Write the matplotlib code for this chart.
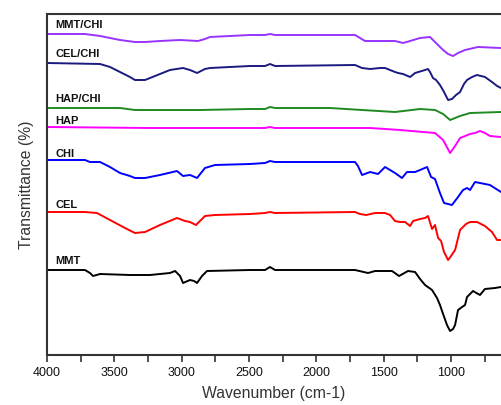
import matplotlib
matplotlib.use("Agg")
import matplotlib.pyplot as plt

plt.rcParams['font.family'] = ['Liberation Sans', 'DejaVu Sans']

# ---- data (wavenumber cm-1, offset transmittance in arbitrary units) ----
mmt_chi_wn = [4000, 3718, 3606, 3532, 3458, 3347, 3272, 3161, 3012, 2879, 2827, 2790, 2493, 2381, 2344, 2307,
              1713, 1676, 1639, 1564, 1490, 1416, 1356, 1304, 1230, 1156, 1119, 1059, 1022, 985, 948, 896, 800, 629]
mmt_chi_t = [321, 321, 319, 317, 315, 313, 313, 314, 315, 314, 316, 318, 320, 320, 321, 320,
             320, 317, 314, 314, 314, 314, 312, 314, 317, 318, 313, 305, 301, 299, 302, 305, 308, 307]

cel_chi_wn = [4000, 3606, 3532, 3458, 3384, 3347, 3272, 3235, 3161, 3087, 2990, 2938, 2886, 2827, 2790, 2493, 2381, 2344, 2307,
              1713, 1661, 1601, 1527, 1490, 1416, 1393, 1356, 1304, 1267, 1193, 1171, 1156, 1134, 1111,
              1082, 1052, 1022, 993, 963, 933, 904, 881, 844, 807, 748, 696, 658, 629]
cel_chi_t = [292, 291, 288, 283, 278, 275, 275, 277, 281, 285, 287, 285, 282, 286, 287, 289, 289, 291, 289,
             290, 287, 286, 287, 287, 283, 282, 281, 278, 282, 285, 286, 283, 277, 275,
             270, 263, 255, 256, 260, 263, 271, 275, 278, 280, 278, 273, 269, 267]

hap_chi_wn = [4000, 3458, 3347, 2864, 2493, 2381, 2344, 2307, 1898, 1661, 1416, 1230, 1119, 1059,
              1007, 933, 859, 629]
hap_chi_t = [247, 247, 245, 245, 246, 246, 248, 247, 247, 245, 243, 246, 245, 241,
             235, 239, 242, 243]

hap_wn = [4000, 3235, 2493, 2381, 2344, 2307, 1601, 1379, 1119, 1059, 1007, 970, 933, 859, 822,
          785, 748, 711, 629]
hap_t = [228, 227, 227, 227, 228, 227, 227, 225, 222, 215, 202, 209, 217, 221, 222,
         224, 222, 219, 218]

chi_wn = [4000, 3718, 3681, 3606, 3532, 3458, 3384, 3347, 3272, 3161, 3035, 2990, 2938, 2886, 2827, 2753,
          2493, 2381, 2344, 2307, 1713, 1691, 1661, 1601, 1542, 1490, 1416, 1364, 1327, 1267, 1230,
          1178, 1148, 1119, 1082, 1052, 993, 948, 911, 881, 859, 822, 711, 629]
chi_t = [195, 195, 193, 193, 188, 182, 179, 177, 177, 180, 184, 179, 180, 177, 187, 190,
         191, 192, 194, 193, 193, 189, 180, 183, 181, 188, 182, 177, 183, 183, 185,
         188, 178, 176, 162, 152, 150, 158, 165, 167, 165, 173, 170, 163]

cel_wn = [4000, 3718, 3629, 3532, 3421, 3347, 3272, 3161, 3035, 2975, 2938, 2894, 2827, 2753, 2493,
          2381, 2344, 2307, 1713, 1676, 1631, 1564, 1490, 1453, 1416, 1379, 1341, 1304, 1282, 1230,
          1193, 1171, 1141, 1119, 1096, 1074, 1052, 1022, 1000, 970, 933, 889, 859, 807, 748,
          696, 658, 629]
cel_t = [143, 143, 142, 135, 127, 122, 123, 130, 137, 134, 133, 130, 139, 140, 141,
         142, 143, 142, 143, 141, 140, 142, 142, 140, 134, 133, 133, 129, 134, 136,
         137, 139, 126, 130, 117, 114, 103, 95, 99, 105, 125, 131, 133, 133, 129,
         123, 115, 115]

mmt_wn = [4000, 3718, 3681, 3658, 3606, 3384, 3235, 3087, 3049, 3012, 2990, 2938, 2908, 2886, 2849,
          2812, 2493, 2381, 2344, 2307, 1713, 1616, 1564, 1438, 1386, 1319, 1267, 1230, 1193, 1141,
          1104, 1082, 1059, 1030, 1007, 985, 970, 948, 918, 896, 881, 837, 785, 748, 674, 629]
mmt_t = [85, 85, 82, 79, 81, 80, 80, 82, 84, 79, 72, 75, 74, 72, 79,
         84, 85, 85, 88, 85, 85, 82, 84, 84, 79, 84, 83, 76, 70, 65,
         57, 50, 41, 30, 24, 26, 30, 45, 48, 50, 58, 64, 60, 66, 67, 68]

names = ["MMT/CHI", "CEL/CHI", "HAP/CHI", "HAP", "CHI", "CEL", "MMT"]
label_y = [330, 301, 256, 234, 201, 150, 94]
colors = ["#9933ff", "#1a1a80", "#1f8a1f", "#ff00ff", "#0000ff", "#ff0000", "#000000"]
series = [(mmt_chi_wn, mmt_chi_t), (cel_chi_wn, cel_chi_t), (hap_chi_wn, hap_chi_t),
          (hap_wn, hap_t), (chi_wn, chi_t), (cel_wn, cel_t), (mmt_wn, mmt_t)]

fig = plt.figure(figsize=(5.01, 4.05), dpi=100)
ax = fig.add_axes([47 / 501, 50 / 405, 1 - 47 / 501, (355 - 14) / 405])

for (wn, t), c, name, ly in zip(series, colors, names, label_y):
    ax.plot(wn, t, color=c, lw=1.4, solid_joinstyle='round')
    ax.text(3940, ly, name, color='#111111', fontsize=8, fontweight='bold',
            va='center', ha='left')

ax.set_xlim(4000, 629)
ax.set_ylim(0, 341)
ax.set_xticks([4000, 3500, 3000, 2500, 2000, 1500, 1000])
ax.set_xticks([3750, 3250, 2750, 2250, 1750, 1250, 750], minor=True)
ax.set_yticks([])
ax.tick_params(axis='x', which='both', direction='out', length=5, width=1.2,
               colors='#333333', labelcolor='#111111', labelsize=9, pad=4)
for s in ['left', 'top', 'bottom']:
    ax.spines[s].set_color('#333333')
    ax.spines[s].set_linewidth(1.5)
ax.spines['right'].set_visible(False)

ax.set_xlabel("Wavenumber (cm-1)", fontsize=11.3, color='#333333', labelpad=5)
ax.set_ylabel("Transmittance (%)", fontsize=11.3, color='#333333', labelpad=9)

fig.savefig("out.png", dpi=100)
